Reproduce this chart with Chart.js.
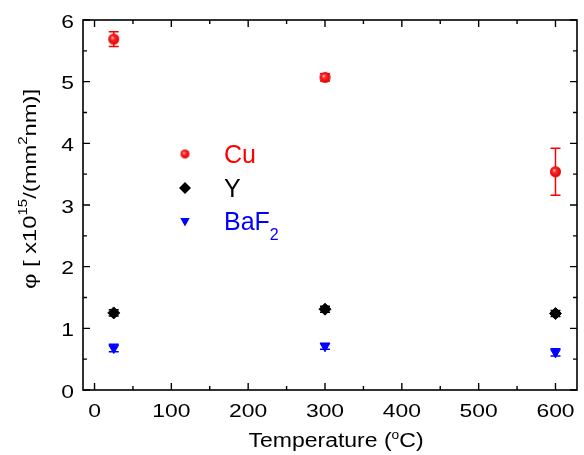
<!DOCTYPE html>
<html>
<head>
<meta charset="utf-8">
<script src="https://cdn.jsdelivr.net/npm/chart.js@4.4.1/dist/chart.umd.min.js"></script>
<style>
  html, body { margin: 0; padding: 0; background: #fff; }
  #wrap { width: 584px; height: 455px; }
</style>
</head>
<body>
<div id="wrap"><canvas id="grafico" width="584" height="455"></canvas></div>
<script>
/* ================= DADOS ================= */
const temperaturas = [25, 300, 600];

const cu = [5.69, 5.07, 3.54];
const cuErro = [0.12, 0.06, 0.38];

const ytrio = [1.25, 1.31, 1.24];
const ytrioErro = [0.05, 0.05, 0.05];

const baf2 = [0.68, 0.71, 0.61];
const baf2Erro = [0.06, 0.05, 0.06];

const ticksX = [0, 100, 200, 300, 400, 500, 600];
const minorX = [50, 150, 250, 350, 450, 550];
const ticksY = [0, 1, 2, 3, 4, 5, 6];
const minorY = [0.5, 1.5, 2.5, 3.5, 4.5, 5.5];

const VERMELHO = "#ff0000";
const AZUL = "#0000ff";
const PRETO = "#000000";
const FONTE = '"Liberation Sans", Arial, sans-serif';

/* ================= ESFERA (marcador do Cu) ================= */
function criarEsfera(r) {
  const c = document.createElement("canvas");
  c.width = c.height = r * 2 + 2;
  const g = c.getContext("2d");
  const m = r + 1;
  const grad = g.createRadialGradient(m - r * 0.3, m - r * 0.3, 0, m, m, r);
  grad.addColorStop(0, "#ffe0e0");
  grad.addColorStop(0.35, "#ff2a2a");
  grad.addColorStop(1, "#e00000");
  g.fillStyle = grad;
  g.beginPath();
  g.arc(m, m, r, 0, Math.PI * 2);
  g.fill();
  return c;
}
const esferaGrande = criarEsfera(5.5);
const esferaPequena = criarEsfera(4.5);

function pontos(valores) {
  return temperaturas.map((t, i) => ({ x: t, y: valores[i] }));
}

/* ================= TEXTO COM PARTES ================= */
// partes: [{t, tam, sobe}]
function larguraPartes(ctx, partes) {
  let w = 0;
  partes.forEach(p => {
    ctx.font = p.tam + "px " + FONTE;
    w += ctx.measureText(p.t).width;
  });
  return w;
}

function desenharPartes(ctx, partes, x, y, esc, alinhar, cor) {
  ctx.save();
  ctx.translate(x, y);
  ctx.scale(esc, 1);
  ctx.fillStyle = cor;
  ctx.textBaseline = "alphabetic";
  ctx.textAlign = "left";
  const w = larguraPartes(ctx, partes);
  let px = 0;
  if (alinhar === "center") px = -w / 2;
  if (alinhar === "right") px = -w;
  partes.forEach(p => {
    ctx.font = p.tam + "px " + FONTE;
    ctx.fillText(p.t, px, -(p.sobe || 0));
    px += ctx.measureText(p.t).width;
  });
  ctx.restore();
}

/* ================= PLUGIN: BARRAS DE ERRO ================= */
const barrasErro = {
  id: "barrasErro",
  beforeDatasetsDraw(chart) {
    const ctx = chart.ctx;
    const sx = chart.scales.x, sy = chart.scales.y;
    chart.data.datasets.forEach(ds => {
      ctx.save();
      ctx.strokeStyle = ds.corErro;
      ctx.lineWidth = 1.5;
      ds.data.forEach((p, i) => {
        const e = ds.erros[i];
        const x = sx.getPixelForValue(p.x);
        const y1 = sy.getPixelForValue(p.y + e);
        const y2 = sy.getPixelForValue(p.y - e);
        ctx.beginPath();
        ctx.moveTo(x, y1); ctx.lineTo(x, y2);
        ctx.moveTo(x - 5, y1); ctx.lineTo(x + 5, y1);
        ctx.moveTo(x - 5, y2); ctx.lineTo(x + 5, y2);
        ctx.stroke();
      });
      ctx.restore();
    });
  }
};

/* ================= PLUGIN: MOLDURA, TICKS, TEXTOS ================= */
const moldura = {
  id: "moldura",
  afterDraw(chart) {
    const ctx = chart.ctx;
    const a = chart.chartArea;
    const sx = chart.scales.x, sy = chart.scales.y;

    ctx.save();
    ctx.strokeStyle = PRETO;
    ctx.lineWidth = 1.6;
    ctx.strokeRect(a.left, a.top, a.right - a.left, a.bottom - a.top);

    // ticks para dentro nos quatro lados
    ctx.lineWidth = 1.4;
    ctx.beginPath();
    const tx = (v, len) => {
      const x = sx.getPixelForValue(v);
      ctx.moveTo(x, a.bottom); ctx.lineTo(x, a.bottom - len);
      ctx.moveTo(x, a.top); ctx.lineTo(x, a.top + len);
    };
    const ty = (v, len) => {
      const y = sy.getPixelForValue(v);
      ctx.moveTo(a.left, y); ctx.lineTo(a.left + len, y);
      ctx.moveTo(a.right, y); ctx.lineTo(a.right - len, y);
    };
    ticksX.forEach(v => tx(v, 7));
    minorX.forEach(v => tx(v, 4));
    ticksY.forEach(v => ty(v, 7));
    minorY.forEach(v => ty(v, 4));
    ctx.stroke();
    ctx.restore();

    // rótulos dos ticks
    ticksX.forEach(v => {
      desenharPartes(ctx, [{ t: String(v), tam: 18 }], sx.getPixelForValue(v), a.bottom + 27, 1.27, "center", PRETO);
    });
    ticksY.forEach(v => {
      desenharPartes(ctx, [{ t: String(v), tam: 18 }], 74, sy.getPixelForValue(v) + 7.5, 1.27, "right", PRETO);
    });

    // título do eixo X
    desenharPartes(ctx, [
      { t: "Temperature (", tam: 20 },
      { t: "o", tam: 12, sobe: 8 },
      { t: "C)", tam: 20 }
    ], 336, 447, 1.15, "center", PRETO);

    // título do eixo Y (rotacionado)
    ctx.save();
    ctx.translate(36, 189);
    ctx.rotate(-Math.PI / 2);
    desenharPartes(ctx, [
      { t: "\u03C6 [ x10", tam: 19 },
      { t: "15", tam: 12, sobe: 9 },
      { t: "/(mm", tam: 19 },
      { t: "2", tam: 12, sobe: 9 },
      { t: "nm)]", tam: 19 }
    ], 0, 0, 1.25, "center", PRETO);
    ctx.restore();

    // legenda
    const lx = 185;
    ctx.drawImage(esferaPequena, lx - esferaPequena.width / 2, 154 - esferaPequena.height / 2);

    ctx.save();
    ctx.fillStyle = PRETO;
    ctx.beginPath();
    ctx.moveTo(lx, 188 - 6); ctx.lineTo(lx + 6, 188); ctx.lineTo(lx, 188 + 6); ctx.lineTo(lx - 6, 188);
    ctx.closePath();
    ctx.fill();

    ctx.fillStyle = AZUL;
    ctx.beginPath();
    ctx.moveTo(lx - 4.7, 218); ctx.lineTo(lx + 4.7, 218); ctx.lineTo(lx, 226.5);
    ctx.closePath();
    ctx.fill();
    ctx.restore();

    desenharPartes(ctx, [{ t: "Cu", tam: 25 }], 224, 163, 1, "left", VERMELHO);
    desenharPartes(ctx, [{ t: "Y", tam: 25 }], 224, 197, 1, "left", PRETO);
    desenharPartes(ctx, [{ t: "BaF", tam: 25 }, { t: "2", tam: 16, sobe: -10 }], 224, 230, 1, "left", AZUL);
  }
};

/* ================= GRÁFICO ================= */
const grafico = new Chart(document.getElementById("grafico"), {
  type: "scatter",
  data: {
    datasets: [
      {
        label: "Cu",
        data: pontos(cu),
        erros: cuErro,
        corErro: VERMELHO,
        pointStyle: esferaGrande,
        pointRadius: 5.5
      },
      {
        label: "Y",
        data: pontos(ytrio),
        erros: ytrioErro,
        corErro: PRETO,
        pointStyle: "rectRot",
        pointRadius: 6,
        backgroundColor: PRETO,
        borderColor: PRETO,
        borderWidth: 1
      },
      {
        label: "BaF2",
        data: pontos(baf2),
        erros: baf2Erro,
        corErro: AZUL,
        pointStyle: "triangle",
        rotation: 180,
        pointRadius: 5.5,
        backgroundColor: AZUL,
        borderColor: AZUL,
        borderWidth: 1
      }
    ]
  },
  options: {
    responsive: false,
    animation: false,
    devicePixelRatio: 1,
    events: [],
    layout: { padding: { top: 20, right: 1, left: 0, bottom: 0 } },
    plugins: {
      legend: { display: false },
      tooltip: { enabled: false }
    },
    scales: {
      x: {
        type: "linear",
        min: -15,
        max: 628,
        ticks: { display: false, stepSize: 100 },
        grid: { display: false },
        border: { display: false },
        afterFit: s => { s.height = 65; }
      },
      y: {
        min: 0,
        max: 6,
        ticks: { display: false, stepSize: 1 },
        grid: { display: false },
        border: { display: false },
        afterFit: s => { s.width = 83; }
      }
    }
  },
  plugins: [barrasErro, moldura]
});
</script>
</body>
</html>
